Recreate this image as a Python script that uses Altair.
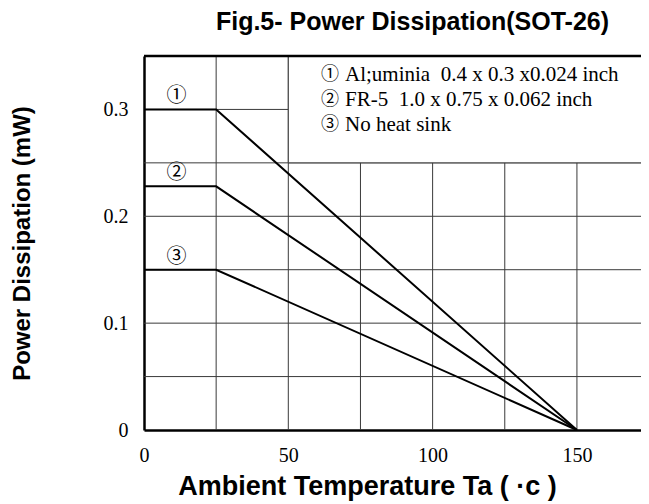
import altair as alt
import pandas as pd

# ---- data ----
temps = [0, 25, 150]                 # Ambient temperature (°C)
p_alumina = [0.30, 0.30, 0.0]        # ① Alumina substrate
p_fr5 = [0.228, 0.228, 0.0]          # ② FR-5 board
p_none = [0.15, 0.15, 0.0]           # ③ No heat sink
series_tags = ["①", "②", "③"]
legend_desc = [
    "Al;uminia\u00a0\u00a00.4 x 0.3 x0.024 inch",
    "FR-5\u00a0\u00a01.0 x 0.75 x 0.062 inch",
    "No heat sink",
]
x_ticks = [0, 50, 100, 150]
y_ticks = [0, 0.1, 0.2, 0.3]
x_grid = [25, 50, 75, 100, 125, 150]
y_grid = [0.05, 0.1, 0.15, 0.2, 0.25, 0.3]
legend_box = [50, 172.2, 0.25, 0.35]  # x0, x1, y0, y1 of the white legend panel
tag_x = 11.3                          # temperature where the ①②③ tags sit

XMAX, YMAX = 172.2, 0.35              # visible part of the axes (cut at the right edge)
W, H = 497, 374

SERIF = "Liberation Serif"
SANS = "Liberation Sans"
CIRC = "Noto Sans CJK JP"

rows = []
for tag, vals in zip(series_tags, [p_alumina, p_fr5, p_none]):
    for t, v in zip(temps, vals):
        rows.append({"T": t, "P": v, "s": tag})
df = pd.DataFrame(rows)

tags_df = pd.DataFrame({
    "T": [tag_x] * 3,
    "P": [p_alumina[0], p_fr5[0], p_none[0]],
    "s": series_tags,
})
legend_df = pd.DataFrame({"tag": series_tags, "desc": legend_desc, "row": [0, 1, 2]})
box_df = pd.DataFrame({"x0": [legend_box[0]], "x1": [legend_box[1] + 5],
                       "y0": [legend_box[2]], "y1": [legend_box[3]]})

xs = alt.Scale(domain=[0, XMAX], nice=False, zero=False)
ys = alt.Scale(domain=[0, YMAX], nice=False)

x_axis = alt.Axis(
    values=x_ticks, grid=False, ticks=False, domain=True, domainColor="black",
    domainWidth=2.5, labelFont=SERIF, labelFontSize=20, labelColor="black",
    labelPadding=15, labelFlush=False,
    title="Ambient Temperature Ta ( ·c )", titleFont=SANS, titleFontWeight="bold",
    titleFontSize=27, titleColor="black", titleX=223, titleY=64,
    titleAlign="center", titleBaseline="alphabetic")
y_axis = alt.Axis(
    values=y_ticks, grid=False, ticks=False, domain=True, domainColor="black",
    domainWidth=2.5, labelFont=SERIF, labelFontSize=20, labelColor="black",
    labelPadding=16, labelFlush=False,
    labelExpr="datum.value == 0 ? '0' : format(datum.value, '.1f')",
    title="Power Dissipation (mW)", titleFont=SANS, titleFontWeight="bold",
    titleFontSize=24, titleColor="black", titleX=-115, titleY=187,
    titleAngle=270, titleAlign="center", titleBaseline="alphabetic")

GRID = "#3a3a3a"

vgrid = alt.Chart(pd.DataFrame({"g": x_grid})).mark_rule(
    color=GRID, strokeWidth=1).encode(x=alt.X("g:Q", scale=xs, axis=x_axis))
hgrid = alt.Chart(pd.DataFrame({"g": y_grid})).mark_rule(
    color=GRID, strokeWidth=1).encode(y=alt.Y("g:Q", scale=ys, axis=y_axis))

box = alt.Chart(box_df).mark_rect(fill="white", stroke=GRID, strokeWidth=1).encode(
    x=alt.X("x0:Q", scale=xs, axis=x_axis), x2="x1:Q",
    y=alt.Y("y0:Q", scale=ys, axis=y_axis), y2="y1:Q")

top_border = alt.Chart(pd.DataFrame({"y": [YMAX]})).mark_rule(
    color="black", strokeWidth=2.5).encode(y=alt.Y("y:Q", scale=ys, axis=y_axis))

lines = alt.Chart(df).mark_line(color="black", strokeWidth=2).encode(
    x=alt.X("T:Q", scale=xs, axis=x_axis),
    y=alt.Y("P:Q", scale=ys, axis=y_axis),
    detail="s:N",
)

tags = alt.Chart(tags_df).mark_text(
    font=CIRC, fontSize=20, color="black", baseline="middle", align="center", dy=-13
).encode(x=alt.X("T:Q", scale=xs, axis=x_axis), y=alt.Y("P:Q", scale=ys, axis=y_axis),
         text="s:N")

leg_tag = alt.Chart(legend_df).transform_calculate(
    py="19 + datum.row * 25"
).mark_text(font=CIRC, fontSize=18, color="black", baseline="middle", align="center").encode(
    x=alt.value(186), y=alt.Y("py:Q", scale=None), text="tag:N")

leg_desc = alt.Chart(legend_df).transform_calculate(
    py="19 + datum.row * 25"
).mark_text(font=SERIF, fontSize=21, color="black", baseline="middle", align="left").encode(
    x=alt.value(201), y=alt.Y("py:Q", scale=None), text="desc:N")

chart = alt.layer(vgrid, hgrid, box, top_border, lines, tags, leg_tag, leg_desc).properties(
    width=W, height=H,
    title=alt.TitleParams(
        "Fig.5- Power Dissipation(SOT-26)", font=SANS, fontWeight="bold", fontSize=25,
        color="black", anchor="middle", frame="group", dx=20, offset=0,
        baseline="alphabetic"),
    autosize=alt.AutoSizeParams(type="none"),
    padding={"left": 136, "top": 48, "right": 0, "bottom": 76},
    background="white",
).configure_view(stroke=None)

chart.save("out.html", embed_options={"renderer": "svg", "actions": False})
